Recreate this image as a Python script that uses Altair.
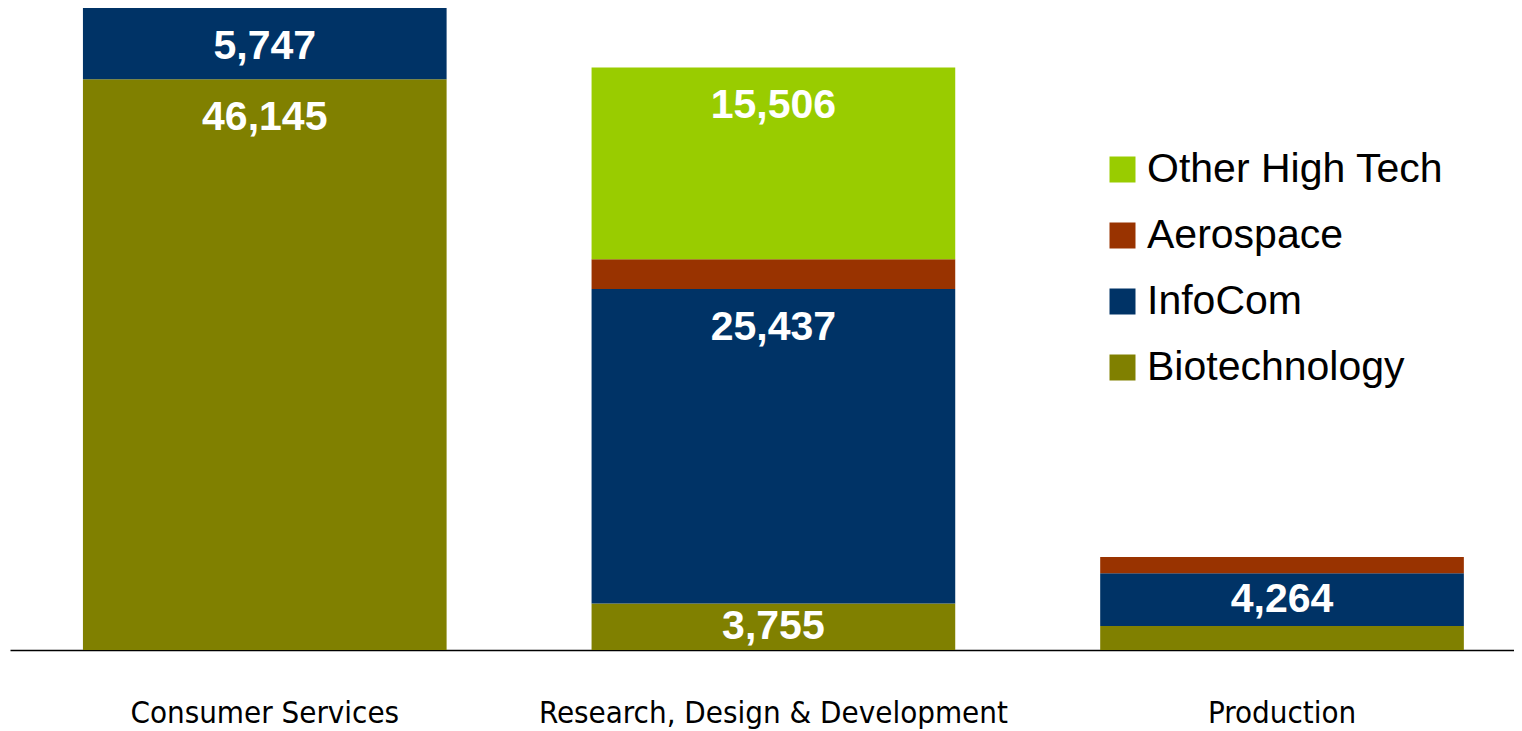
import altair as alt
import pandas as pd

categories = ["Consumer Services", "Research, Design & Development", "Production"]
series = ["Biotechnology", "InfoCom", "Aerospace", "Other High Tech"]
biotech = [46145, 3755, 1950]
infocom = [5747, 25437, 4264]
aerospace = [0, 2400, 1300]
other_high_tech = [0, 15506, 0]
colors = ["#808000", "#003366", "#993300", "#99CC00"]

rows = []
for si, (s, vals) in enumerate(zip(series, [biotech, infocom, aerospace, other_high_tech])):
    for c, v in zip(categories, vals):
        if v > 0:
            rows.append({"category": c, "series": s, "order": si, "value": v})
df = pd.DataFrame(rows)

legend_order = series[::-1]
color_scale = alt.Scale(domain=legend_order, range=colors[::-1])

x_enc = alt.X(
    "category:N",
    sort=categories,
    scale=alt.Scale(paddingInner=0.285, paddingOuter=0.121, align=0.5926),
    axis=alt.Axis(
        title=None, labelAngle=0, ticks=False, tickSize=0, grid=False,
        domainColor="black", domainWidth=1.5,
        labelFont="DejaVu Sans Condensed", labelFontSize=31, labelColor="black",
        labelPadding=72, labelBaseline="alphabetic", labelLimit=600,
    ),
)
y_scale = alt.Scale(domain=[0, 51900], nice=False)

base = alt.Chart(df).transform_stack(
    stack="value",
    groupby=["category"],
    as_=["y0", "y1"],
    sort=[alt.SortField("order", order="ascending")],
)

bars = base.mark_bar().encode(
    x=x_enc,
    y=alt.Y("y0:Q", scale=y_scale, axis=None),
    y2="y1:Q",
    color=alt.Color(
        "series:N",
        scale=color_scale,
        legend=alt.Legend(
            title=None, orient="none", legendX=1092, legendY=141,
            labelFont="Liberation Sans", labelFontSize=41, labelColor="black",
            labelLimit=500, labelOffset=4,
            symbolType="square", symbolSize=676, symbolStrokeWidth=0,
            symbolOpacity=1, rowPadding=24, padding=0,
        ),
    ),
)

label_style = dict(font="Liberation Sans", fontWeight="bold", fontSize=41,
                   color="white", baseline="middle", align="center")

labels_top = base.transform_filter("datum.value >= 5000").mark_text(dy=39, **label_style).encode(
    x=x_enc,
    y=alt.Y("y1:Q", scale=y_scale, axis=None),
    text=alt.Text("value:Q", format=",d"),
)

labels_mid = base.transform_filter("datum.value >= 3000 && datum.value < 5000").transform_calculate(
    mid="(datum.y0 + datum.y1) / 2"
).mark_text(**label_style).encode(
    x=x_enc,
    y=alt.Y("mid:Q", scale=y_scale, axis=None),
    text=alt.Text("value:Q", format=",d"),
)

chart = alt.layer(bars, labels_top, labels_mid).properties(
    width=1504,
    height=642,
    background="white",
    autosize=alt.AutoSizeParams(type="none"),
    padding={"left": 2, "top": 0, "right": 0, "bottom": 81},
).configure_view(stroke=None)

chart.save("out.html", embed_options={"renderer": "svg", "actions": False})
